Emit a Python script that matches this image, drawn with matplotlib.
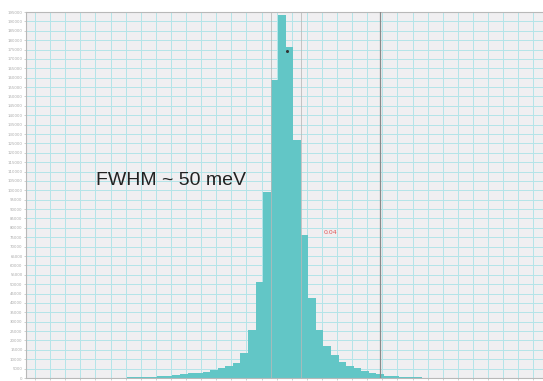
import numpy as np
import matplotlib
matplotlib.use("Agg")
import matplotlib.pyplot as plt
from matplotlib.ticker import MultipleLocator

# Histogram of energies (meV), bin width 12.5 meV
bin_width = 12.5
bin_centers = np.arange(-268.75, 250, bin_width)
counts = [107, 267, 373, 533, 533, 800, 1066, 1333, 1866, 2400,
          2665, 3200, 4264, 5064, 6130, 7730, 13170, 25580, 51170, 99140,
          158830, 193480, 176420, 126850, 76220, 42640, 25580, 17060, 12260, 8530,
          6400, 5170, 3890, 2820, 1970, 1230, 1230, 690, 690, 320,
          210, 160]

fwhm_edges = [-25, 25]
cursor_x = 156
dot_x, dot_y = 1.5, 174000
y_ticks = np.arange(0, 195001, 5000)

fig = plt.figure(figsize=(5.43, 3.81), dpi=100)
ax = fig.add_axes([26 / 543, 3 / 381, 517 / 543, 366 / 381])
ax.set_facecolor("#f0eff1")

ax.bar(bin_centers, counts, width=bin_width, color="#62c6c6", linewidth=0, zorder=2)

for x in fwhm_edges:
    ax.axvline(x, color="#b8b8b8", lw=0.7, alpha=0.8, zorder=3)
ax.axvline(cursor_x, color="#8a8a8a", lw=0.9, zorder=3)
ax.plot(dot_x, dot_y, marker="o", ms=1.2, color="#333333", zorder=4)

ax.text(-314, 105000, "FWHM ~ 50 meV", fontsize=14, family="Liberation Sans",
        color="#222222", ha="left", va="center")
ax.text(62, 77500, "0.04", fontsize=4.5, color="#e05555", ha="left", va="center")

ax.set_xlim(-430, 426)
ax.set_ylim(0, 195000)
ax.xaxis.set_major_locator(MultipleLocator(25, offset=10))
ax.set_yticks(y_ticks)
ax.set_yticklabels([str(v) for v in y_ticks], fontsize=2.8, color="#aaaaaa")
ax.tick_params(axis="y", length=1.5, width=0.4, color="#aaaaaa", pad=1)
ax.tick_params(axis="x", length=1.5, width=0.4, color="#aaaaaa", labelbottom=False)
ax.grid(True, color="#b4e4e8", lw=0.7)
ax.set_axisbelow(True)

for side in ["left", "top", "bottom"]:
    ax.spines[side].set_color("#b8b8b8")
    ax.spines[side].set_linewidth(0.8)
ax.spines["right"].set_visible(False)

fig.savefig("out.png", dpi=100)
